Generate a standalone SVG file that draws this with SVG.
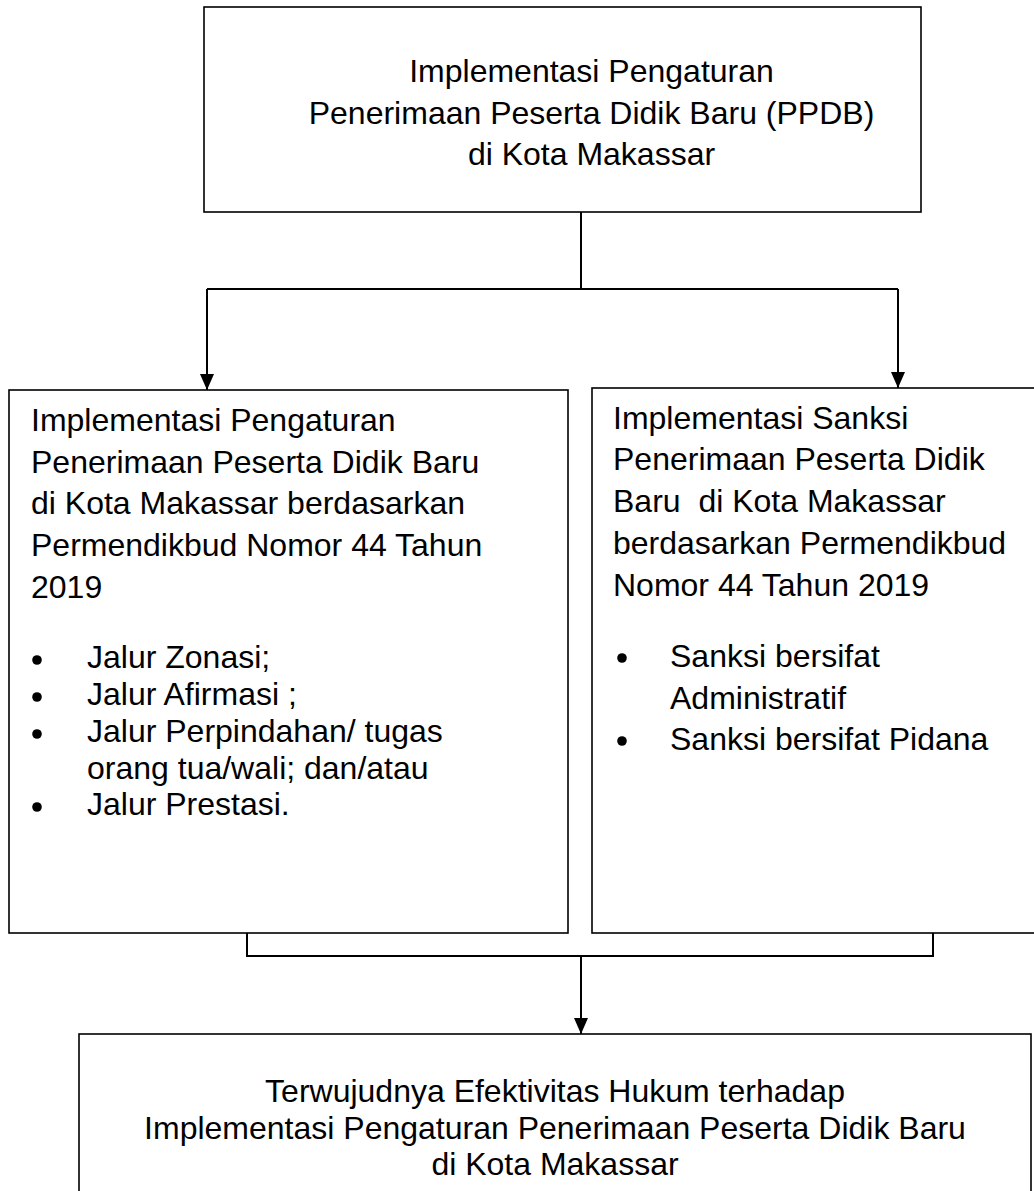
<svg xmlns="http://www.w3.org/2000/svg" width="1034" height="1191" viewBox="0 0 1034 1191">
  <style>
    .box { fill: #ffffff; stroke: #000000; stroke-width: 1.6; }
    .t { font-family: "Liberation Sans", Arial, sans-serif; font-size: 32px; fill: #000000; }
    .c { text-anchor: middle; }
    .conn { fill: none; stroke: #000000; stroke-width: 2; }
    .dot { fill: #000000; }
  </style>
  <defs>
    <marker id="arrow" markerUnits="userSpaceOnUse" viewBox="0 0 16 14" refX="16" refY="7" markerWidth="16" markerHeight="14" orient="auto">
      <path d="M0,0 L16,7 L0,14 z" fill="#000000"/>
    </marker>
  </defs>
  <rect width="1034" height="1191" fill="#ffffff"/>

  <g id="connectors">
    <path class="conn" d="M581,212 V289"/>
    <path class="conn" d="M207,289 H898"/>
    <path class="conn" d="M207,289 V390" marker-end="url(#arrow)"/>
    <path class="conn" d="M898,289 V388" marker-end="url(#arrow)"/>
    <path class="conn" d="M247,933 V956 H933 V933"/>
    <path class="conn" d="M581,956 V1034" marker-end="url(#arrow)"/>
  </g>

  <g id="node-top">
    <rect class="box" x="204" y="7" width="717" height="205"/>
    <text class="t c" x="591.5" y="82">Implementasi Pengaturan</text>
    <text class="t c" x="591.5" y="123.5">Penerimaan Peserta Didik Baru (PPDB)</text>
    <text class="t c" x="591.5" y="165">di Kota Makassar</text>
  </g>

  <g id="node-left">
    <rect class="box" x="9" y="390" width="559" height="543"/>
    <text class="t" x="31" y="431">Implementasi Pengaturan</text>
    <text class="t" x="31" y="472.7">Penerimaan Peserta Didik Baru</text>
    <text class="t" x="31" y="514.4">di Kota Makassar berdasarkan</text>
    <text class="t" x="31" y="556.1">Permendikbud Nomor 44 Tahun</text>
    <text class="t" x="31" y="597.8">2019</text>
    <circle class="dot" cx="37" cy="660" r="4.8"/>
    <text class="t" x="87" y="668">Jalur Zonasi;</text>
    <circle class="dot" cx="37" cy="697" r="4.8"/>
    <text class="t" x="87" y="705">Jalur Afirmasi ;</text>
    <circle class="dot" cx="37" cy="734" r="4.8"/>
    <text class="t" x="87" y="742">Jalur Perpindahan/ tugas</text>
    <text class="t" x="87" y="778.5">orang tua/wali; dan/atau</text>
    <circle class="dot" cx="37" cy="807" r="4.8"/>
    <text class="t" x="87" y="815">Jalur Prestasi.</text>
  </g>

  <g id="node-right">
    <rect class="box" x="592" y="388" width="460" height="545"/>
    <text class="t" x="613" y="428.5">Implementasi Sanksi</text>
    <text class="t" x="613" y="470.3">Penerimaan Peserta Didik</text>
    <text class="t" x="613" y="512.1" xml:space="preserve">Baru  di Kota Makassar</text>
    <text class="t" x="613" y="553.9">berdasarkan Permendikbud</text>
    <text class="t" x="613" y="595.7">Nomor 44 Tahun 2019</text>
    <circle class="dot" cx="622" cy="658" r="4.8"/>
    <text class="t" x="670" y="667">Sanksi bersifat</text>
    <text class="t" x="670" y="708.5">Administratif</text>
    <circle class="dot" cx="622" cy="741" r="4.8"/>
    <text class="t" x="670" y="750">Sanksi bersifat Pidana</text>
  </g>

  <g id="node-bottom">
    <rect class="box" x="79" y="1034" width="952" height="170"/>
    <text class="t c" x="555" y="1102">Terwujudnya Efektivitas Hukum terhadap</text>
    <text class="t c" x="555" y="1138.5">Implementasi Pengaturan Penerimaan Peserta Didik Baru</text>
    <text class="t c" x="555" y="1175">di Kota Makassar</text>
  </g>
</svg>
